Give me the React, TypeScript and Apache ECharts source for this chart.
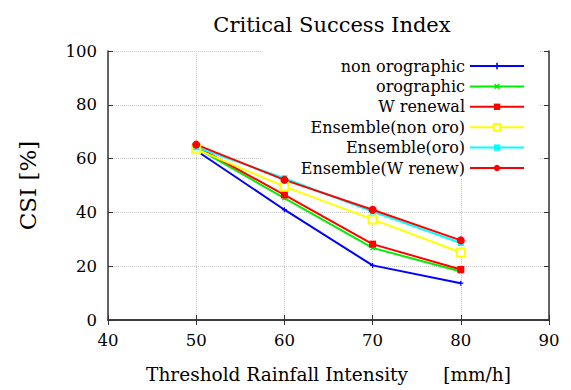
import React, { useEffect, useRef } from "react";
import * as echarts from "echarts";

const thresholds = [50, 60, 70, 80];
const seriesNames = [
  "non orographic",
  "orographic",
  "W renewal",
  "Ensemble(non oro)",
  "Ensemble(oro)",
  "Ensemble(W renew)",
];
const nonOrographic = [63, 41, 20.3, 13.7];
const orographic = [64, 45.3, 26.8, 18.0];
const wRenewal = [64.5, 46.5, 28.2, 18.8];
const ensembleNonOro = [63.5, 49.6, 37.4, 25.1];
const ensembleOro = [64.2, 52.7, 40.3, 28.6];
const ensembleWRenew = [65.2, 52.1, 41.0, 29.6];
const xTicks = [40, 50, 60, 70, 80, 90];
const yTicks = [0, 20, 40, 60, 80, 100];

const FONT = "DejaVu Serif";
const PLUS = "path://M3,0 H5 V3 H8 V5 H5 V8 H3 V5 H0 V3 H3 Z";

export default function App() {
  const ref = useRef<HTMLDivElement>(null);
  useEffect(() => {
    document.body.style.margin = "0";
    const chart = echarts.init(ref.current!, null, { renderer: "svg" });
    const values = [nonOrographic, orographic, wRenewal, ensembleNonOro, ensembleOro, ensembleWRenew];
    const colors = ["#0000ff", "#00ee00", "#ff0000", "#ffff00", "#00ffff", "#ff0000"];
    const symbols = [PLUS, PLUS, "rect", "emptyRect", "rect", "circle"];
    const sizes = [5, 6, 7, 8, 6, 8];
    const rotates = [0, 45, 0, 0, 0, 0];
    const series = values.map((v, i) => ({
      name: seriesNames[i],
      type: "line",
      z: 5,
      data: v.map((y, j) => [thresholds[j], y]),
      symbol: symbols[i],
      symbolSize: sizes[i],
      symbolRotate: rotates[i],
      showAllSymbol: true,
      lineStyle: { color: colors[i], width: 2 },
      itemStyle: { color: colors[i], borderWidth: i === 3 ? 2 : 0, borderColor: colors[i] },
    }));
    const axisLine = { show: true, lineStyle: { color: "#333", width: 1.5 } };
    const tickIn = { show: true, inside: true, length: 5, lineStyle: { color: "#333" } };
    chart.setOption({
      animation: false,
      backgroundColor: "#fff",
      textStyle: { fontFamily: FONT },
      title: {
        text: "Critical Success Index",
        left: 327,
        textAlign: "center",
        top: 9,
        textStyle: { fontFamily: FONT, fontSize: 21, fontWeight: "normal", color: "#000" },
      },
      legend: {
        orient: "vertical",
        align: "right",
        right: 31,
        top: 51,
        padding: [5, 15, 0, 39],
        backgroundColor: "#fff",
        itemWidth: 54,
        itemHeight: 8,
        itemGap: 0.4,
        textStyle: { fontFamily: FONT, fontSize: 16, color: "#000", lineHeight: 20 },
        data: seriesNames,
      },
      grid: { left: 108, right: 22, top: 51, bottom: 70, containLabel: false },
      xAxis: [
        {
          type: "value",
          min: 40,
          max: 90,
          interval: 10,
          name: "Threshold Rainfall Intensity      [mm/h]",
          nameLocation: "middle",
          nameGap: 45,
          nameTextStyle: { fontFamily: FONT, fontSize: 18.5, color: "#000" },
          axisLine,
          axisTick: tickIn,
          axisLabel: {
            fontFamily: FONT,
            fontSize: 16.5,
            color: "#000",
            margin: 12,
            formatter: (v: number) => (xTicks.includes(v) ? String(v) : ""),
          },
          splitLine: { show: true, lineStyle: { color: "#c8c8c8", type: "dotted", width: 1 } },
        },
        {
          type: "value",
          position: "top",
          min: 40,
          max: 90,
          interval: 10,
          axisLine,
          axisTick: tickIn,
          axisLabel: { show: false },
          splitLine: { show: false },
        },
      ],
      yAxis: [
        {
          type: "value",
          min: 0,
          max: 100,
          interval: 20,
          name: "CSI [%]",
          nameLocation: "middle",
          nameRotate: 90,
          nameGap: 69,
          nameTextStyle: { fontFamily: FONT, fontSize: 23, color: "#000" },
          axisLine,
          axisTick: tickIn,
          axisLabel: {
            fontFamily: FONT,
            fontSize: 16.5,
            color: "#000",
            margin: 11,
            formatter: (v: number) => (yTicks.includes(v) ? String(v) : ""),
          },
          splitLine: { show: true, lineStyle: { color: "#c8c8c8", type: "dotted", width: 1 } },
        },
        {
          type: "value",
          position: "right",
          min: 0,
          max: 100,
          interval: 20,
          axisLine,
          axisTick: tickIn,
          axisLabel: { show: false },
          splitLine: { show: false },
        },
      ],
      series,
    });
    return () => chart.dispose();
  }, []);
  return <div ref={ref} style={{ width: 571, height: 390 }} />;
}
